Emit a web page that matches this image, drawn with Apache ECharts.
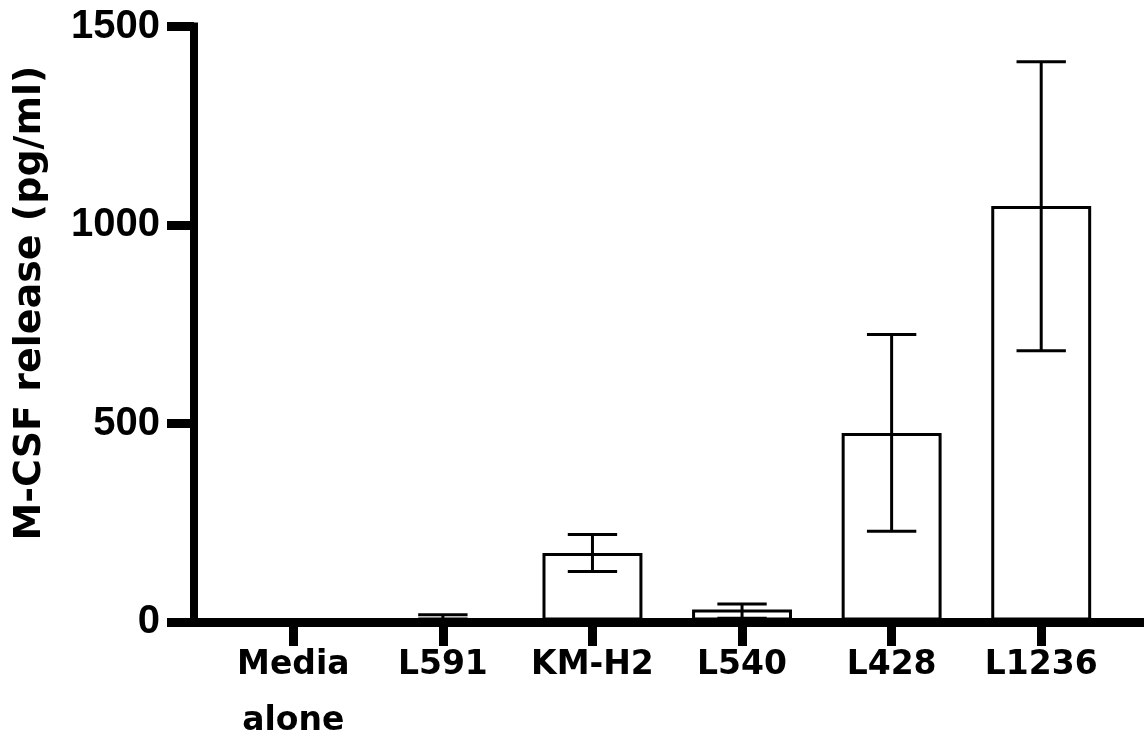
<!DOCTYPE html>
<html>
<head>
<meta charset="utf-8">
<script src="https://cdn.jsdelivr.net/npm/echarts@6/dist/echarts.min.js"></script>
<style>
html,body{margin:0;padding:0;background:#fff;}
#chart{width:1144px;height:749px;}
</style>
</head>
<body>
<div id="chart"></div>
<script>
// ---- data ----
const categories = ['Media\nalone', 'L591', 'KM-H2', 'L540', 'L428', 'L1236'];
const means      = [0, 1, 163, 20, 467, 1042];
const errLow     = [0, 0, 120, 2, 222, 679];
const errHigh    = [0, 11, 214, 38, 720, 1411];
const yTicks     = [0, 500, 1000, 1500];
const yTitle     = 'M-CSF release (pg/ml)';

const barData = categories.map((c, i) => [i, means[i]]);
const errData = categories.map((c, i) => [i, means[i], errLow[i], errHigh[i]]);

const chart = echarts.init(document.getElementById('chart'), null, {renderer: 'canvas'});

const option = {
  backgroundColor: '#fff',
  animation: false,
  grid: [
    {left: 218.5, right: 28, top: 26.5, bottom: 127},
    {left: 194, right: 0, top: 26.5, bottom: 127}
  ],
  xAxis: [
    {
      type: 'category', gridIndex: 0, data: categories, boundaryGap: true,
      axisLine: {show: false},
      axisTick: {show: true, alignWithLabel: true, length: 27, lineStyle: {width: 9, color: '#000'}},
      axisLabel: {interval: 0, margin: 18, color: '#000', fontFamily: 'DejaVu Sans', fontWeight: 'bold', fontSize: 33, lineHeight: 56},
      splitLine: {show: false}
    },
    {
      type: 'value', gridIndex: 1, min: 0, max: 1, z: 10,
      axisLine: {show: true, lineStyle: {width: 9, color: '#000', cap: 'square'}},
      axisTick: {show: false}, axisLabel: {show: false}, splitLine: {show: false}
    }
  ],
  yAxis: [
    {type: 'value', gridIndex: 0, min: yTicks[0], max: yTicks[yTicks.length - 1], show: false},
    {
      type: 'value', gridIndex: 1, min: yTicks[0], max: yTicks[yTicks.length - 1], interval: yTicks[1] - yTicks[0], z: 10,
      axisLine: {show: true, lineStyle: {width: 8, color: '#000', cap: 'square'}},
      axisTick: {show: true, length: 27, lineStyle: {width: 9, color: '#000'}},
      axisLabel: {margin: 34, color: '#000', fontFamily: 'Liberation Sans', fontWeight: 'bold', fontSize: 40,
                  formatter: function (v) { return String(v); }},
      splitLine: {show: false}
    }
  ],
  series: [
    {
      type: 'custom', xAxisIndex: 0, yAxisIndex: 0, z: 2,
      data: barData,
      encode: {x: 0, y: 1},
      renderItem: function (params, api) {
        const x = api.value(0), v = api.value(1);
        const p0 = api.coord([x, 0]);
        const p1 = api.coord([x, v]);
        const h = p0[1] - p1[1];
        if (h < 2) return null; // too small to show above the thick axis line
        const w = api.size([1, 0])[0] * 0.648;
        return {
          type: 'rect',
          shape: {x: p0[0] - w / 2, y: p1[1], width: w, height: h},
          style: {fill: '#fff', stroke: '#000', lineWidth: 3}
        };
      }
    },
    {
      type: 'custom', xAxisIndex: 0, yAxisIndex: 0, z: 3,
      data: errData,
      encode: {x: 0, y: 3},
      renderItem: function (params, api) {
        const x = api.value(0);
        const lo = api.coord([x, api.value(2)]);
        const hi = api.coord([x, api.value(3)]);
        if (lo[1] - hi[1] < 1) return null;
        const cw = api.size([1, 0])[0] * 0.33;
        const st = {stroke: '#000', lineWidth: 3};
        return {
          type: 'group',
          children: [
            {type: 'line', shape: {x1: lo[0], y1: lo[1], x2: hi[0], y2: hi[1]}, style: st},
            {type: 'line', shape: {x1: hi[0] - cw / 2, y1: hi[1], x2: hi[0] + cw / 2, y2: hi[1]}, style: st},
            {type: 'line', shape: {x1: lo[0] - cw / 2, y1: lo[1], x2: lo[0] + cw / 2, y2: lo[1]}, style: st}
          ]
        };
      }
    }
  ],
  graphic: [
    {
      type: 'text', x: 30, y: 303, rotation: Math.PI / 2,
      style: {text: yTitle, fill: '#000', font: 'bold 38px "DejaVu Sans"', textAlign: 'center', textVerticalAlign: 'middle'}
    }
  ]
};

chart.setOption(option);
</script>
</body>
</html>
